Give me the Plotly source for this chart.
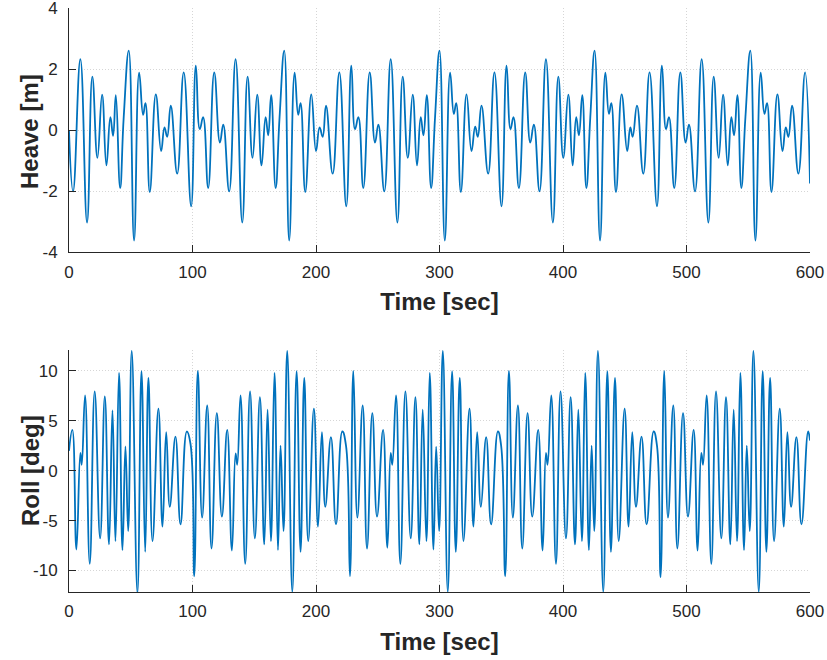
import plotly.graph_objects as go
from plotly.subplots import make_subplots

# Heave: extrema (time [sec], heave [m])
heave_t = [0, 3.3, 9.2, 14.6, 18.9, 23.0, 26.8, 30.3, 33.5, 35.7, 37.9, 41.4, 44.3, 48.4, 52.7, 56.8, 60.0, 61.9,
           65.4, 70.3, 74.6, 77.3, 79.5, 82.4, 87.6, 92.9, 98.9, 102.7, 105.9, 108.6, 112.7, 117.6, 122.2, 124.9,
           129.7, 134.9, 140.3, 144.6, 148.6,
           152.4, 155.9, 159.2, 161.3, 163.7, 167.3, 170.5, 174.3, 178.3, 182.7, 185.6, 187.5, 191.3, 196.2, 200.0,
           202.9, 205.4, 208.1, 213.5, 218.9, 224.5, 228.6, 231.6, 234.3, 238.3, 243.5, 247.8, 250.5, 255.3, 260.5,
           265.9, 270.2, 274.3, 278.3, 281.8, 284.8, 287.0, 289.7, 293.2, 296.4,
           300.0, 304.3, 308.6, 311.6, 313.5, 317.3, 321.9, 325.9, 328.9, 331.0, 334.0, 339.4, 344.5, 350.2, 354.3,
           357.5, 359.9, 364.3, 369.4, 373.5, 376.4, 381.0, 386.2, 391.8, 396.2, 400.2, 404.3, 407.8, 410.7, 412.9,
           415.6, 418.9, 422.1, 425.6, 430.0, 434.3, 437.2, 439.1, 442.9,
           447.5, 452.0, 454.5, 456.4, 459.9, 465.0, 470.1, 476.1, 480.1, 483.4, 485.8, 490.1, 495.0, 499.3, 502.0,
           506.9, 512.3, 517.7, 522.0, 526.1, 529.6, 533.4, 536.3, 538.5, 541.2, 544.4, 547.7, 551.7, 555.8, 560.1,
           563.1, 565.2, 568.8, 573.6, 577.7, 580.4, 582.5, 585.5, 590.6, 596.0, 600.0]
heave_v = [-0.02, -2.01, 2.32, -3.03, 1.75, -0.91, 1.16, -1.16, 0.42, -0.19, 1.14, -1.90, 0.42, 2.60, -3.62, 1.88, 0.50, 0.88,
           -2.03, 1.17, -0.69, 0.09, -0.22, 0.80, -1.43, 1.89, -2.50, 2.11, 0.03, 0.42, -1.90, 1.89, -0.41, 0.18,
           -2.01, 2.32, -3.03, 1.75, -0.91,
           1.16, -1.16, 0.42, -0.17, 1.14, -1.90, 0.42, 2.60, -3.62, 1.88, 0.50, 0.88, -2.03, 1.17, -0.69,
           0.09, -0.22, 0.80, -1.43, 1.89, -2.50, 2.11, 0.03, 0.42, -1.90, 1.89, -0.41, 0.18, -2.01, 2.32,
           -3.03, 1.75, -0.91, 1.16, -1.16, 0.42, -0.17, 1.14, -1.90, 0.42,
           2.60, -3.62, 1.88, 0.53, 0.88, -2.03, 1.17, -0.69, 0.11, -0.22, 0.80, -1.43, 1.89, -2.50, 2.11,
           0.03, 0.42, -1.90, 1.89, -0.41, 0.18, -2.01, 2.32, -3.03, 1.75, -0.91, 1.16, -1.16, 0.42, -0.17,
           1.14, -1.90, 0.42, 2.60, -3.62, 1.88, 0.53, 0.88, -2.03,
           1.17, -0.69, 0.09, -0.22, 0.80, -1.43, 1.89, -2.50, 2.11, 0.03, 0.42, -1.90, 1.89, -0.41, 0.18,
           -2.01, 2.32, -3.03, 1.75, -0.91, 1.16, -1.16, 0.42, -0.17, 1.14, -1.90, 0.42, 2.60, -3.62, 1.88,
           0.53, 0.88, -2.03, 1.17, -0.69, 0.09, -0.22, 0.80, -1.43, 1.89, -1.75]

# Roll: extrema (time [sec], roll [deg])
roll_t = [0, 2.7, 6.0, 9.2, 10.3, 13.0, 16.8, 20.8, 25.2, 29.0, 32.4, 35.2, 37.6, 40.5, 43.3, 45.7, 47.9, 50.8,
          55.4, 58.7, 61.7, 64.3, 67.6, 72.4, 75.7, 78.7, 81.6, 86.2, 90.3, 95.4, 98.4, 101.4, 104.3, 107.8,
          111.9, 115.4, 119.7, 123.8, 128.1, 131.9, 134.9, 136.2, 138.9, 142.7,
          146.6, 150.5, 154.6, 158.1, 160.8, 163.5, 166.4, 169.2, 171.3, 173.7, 176.7, 180.8, 184.3, 187.5,
          190.5, 193.7, 198.3, 201.6, 204.8, 207.5, 212.1, 216.2, 221.3, 224.3, 227.5, 230.2, 233.5, 237.8,
          241.3, 245.6, 249.4, 254.3, 257.8, 260.5, 261.8, 264.8, 268.3, 272.4, 276.7, 280.5, 283.7, 286.4,
          289.4, 292.1,
          295.1, 297.3, 299.7, 302.7, 306.7, 310.2, 313.2, 316.4, 319.4, 324.3, 327.5, 330.5, 333.5, 337.8,
          341.8, 347.3, 349.9, 353.2, 356.2, 359.4, 363.5, 367.0, 371.3, 375.1, 379.9, 383.5, 386.2, 387.5,
          390.5, 394.3, 398.0, 402.4, 406.2, 409.7, 412.4, 415.3, 418.0, 421.0, 423.2, 425.3, 428.3, 432.6,
          435.9, 438.8, 442.1,
          445.1, 449.9, 453.1, 456.1, 459.1, 463.6, 467.7, 473.4, 476.1, 479.0, 482.0, 485.0, 489.3, 492.6,
          497.2, 501.2, 505.8, 509.0, 512.0, 513.4, 516.3, 520.1, 523.9, 528.2, 532.0, 535.5, 538.2, 540.9,
          543.6, 546.6, 548.8, 551.2, 554.2, 558.5, 561.7, 564.7, 567.7, 570.9, 575.5, 578.8, 581.7, 584.7,
          589.0, 593.1, 598.5, 600.0]
roll_v = [2.0, 4.09, -7.89, 1.78, 0.60, 7.55, -9.33, 7.95, -6.78, 7.45, -7.38, 6.04, -7.05, 9.80, -7.95, 2.45, -6.04, 12.01,
          -12.25, 9.97, -8.12, 9.30, -7.05, 6.21, -5.60, 3.86, -3.62, 3.42, -5.37, 3.93, 2.68, -10.57, 10.0, -4.70,
          6.54, -7.79, 5.77, -4.60, 4.09, -7.99, 1.74, 0.60, 7.55, -9.33,
          7.95, -6.78, 7.38, -7.38, 6.11, -7.05, 9.80, -7.95, 2.52, -6.04, 12.01, -12.15, 9.97, -8.12,
          9.30, -7.05, 6.21, -5.60, 3.86, -3.62, 3.36, -5.37, 3.93, 2.52, -10.57, 10.0, -4.70, 6.54,
          -7.79, 5.77, -4.60, 4.09, -7.72, 1.78, 0.60, 7.55, -9.33, 7.95, -6.78, 7.38, -7.38, 6.11,
          -7.05, 9.80,
          -7.89, 2.42, -6.04, 12.01, -12.15, 9.97, -8.12, 9.30, -7.05, 6.21, -5.60, 3.86, -3.62, 3.36,
          -5.37, 3.93, 2.52, -10.57, 10.0, -4.70, 6.54, -7.79, 5.77, -4.60, 4.09, -7.99, 1.78, 0.60,
          7.55, -9.33, 7.95, -6.78, 7.38, -7.38, 6.11, -7.05, 9.80, -7.95, 2.52, -6.04, 12.01, -12.15,
          9.97, -8.12, 9.30,
          -7.05, 6.21, -5.60, 3.86, -3.62, 3.42, -5.37, 3.93, 2.52, -10.67, 10.0, -4.70, 6.54, -7.79,
          5.77, -4.60, 4.09, -7.99, 1.78, 0.60, 7.55, -9.33, 7.95, -6.78, 7.38, -7.38, 6.11, -7.05,
          9.80, -7.95, 2.52, -6.04, 12.01, -12.15, 9.97, -8.12, 9.30, -7.05, 6.21, -5.60, 3.86, -3.62,
          3.36, -5.37, 3.93, 3.02]

x_ticks = [0, 100, 200, 300, 400, 500, 600]
heave_ticks = [-4, -2, 0, 2, 4]
heave_tick_text = ["-4", "-2", "0", "2", "4"]
roll_ticks = [-10, -5, 0, 5, 10]
roll_tick_text = ["-10", "-5", "0", "5", "10"]

LINE = "#0072BD"
AX = "#262626"
FONT = "Liberation Sans, Arial, sans-serif"
TICK_FONT = dict(family=FONT, size=17, color=AX)
TITLE_FONT = dict(family=FONT, size=24, color=AX)

fig = make_subplots(rows=2, cols=1, vertical_spacing=0.0)
fig.add_trace(go.Scatter(x=heave_t, y=heave_v, mode="lines",
                         line=dict(color=LINE, width=1.8, shape="spline", smoothing=1.3)), row=1, col=1)
fig.add_trace(go.Scatter(x=roll_t, y=roll_v, mode="lines",
                         line=dict(color=LINE, width=1.8, shape="spline", smoothing=1.3)), row=2, col=1)

common = dict(showline=True, linecolor=AX, linewidth=1, ticks="inside", ticklen=7, tickcolor=AX,
              showgrid=True, gridcolor="#d6d6d6", griddash="1px,2px", gridwidth=1, zeroline=False,
              tickfont=TICK_FONT, mirror=False, ticklabeloverflow="allow", automargin=False)

fig.update_xaxes(range=[0, 600], tickvals=x_ticks, ticklabelstandoff=4, **common)
for r in (1, 2):
    fig.update_xaxes(title=dict(text="<b>Time [sec]</b>", font=TITLE_FONT, standoff=12), row=r, col=1)
fig.update_yaxes(range=[-4, 4.0001], tickvals=heave_ticks, ticktext=heave_tick_text,
                 row=1, col=1, ticklabelstandoff=7, **common)
fig.update_yaxes(range=[-12.15, 12.1], tickvals=roll_ticks, ticktext=roll_tick_text,
                 row=2, col=1, ticklabelstandoff=7, **common)

fig.update_layout(
    width=827, height=660,
    margin=dict(l=69, r=17, t=8, b=68, autoexpand=False),
    plot_bgcolor="white", paper_bgcolor="white",
    showlegend=False,
    xaxis=dict(domain=[0, 1]),
    yaxis=dict(domain=[0.582, 1.0]),
    yaxis2=dict(domain=[0.0, 0.4144]),
)

# y-axis titles placed as rotated annotations
for ytxt, ycen in (("<b>Heave [m]</b>", 132), ("<b>Roll [deg]</b>", 471)):
    fig.add_annotation(text=ytxt, textangle=-90, font=TITLE_FONT, showarrow=False,
                       xref="paper", yref="paper",
                       x=(30 - 69) / 741, y=(592 - ycen) / 584,
                       xanchor="center", yanchor="middle")

fig.write_html("out.html")
